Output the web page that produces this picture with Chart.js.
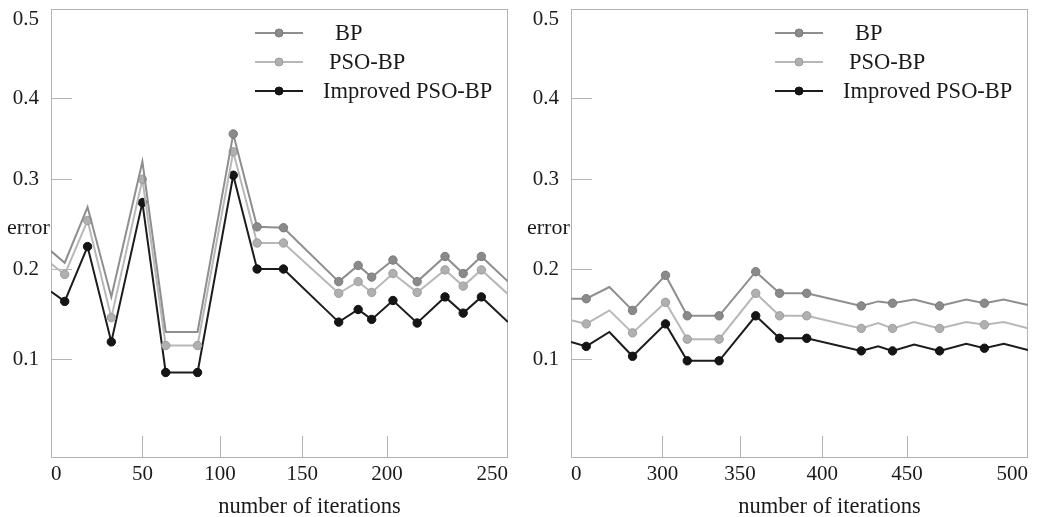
<!DOCTYPE html>
<html>
<head>
<meta charset="utf-8">
<script src="https://cdn.jsdelivr.net/npm/chart.js@4.4.1/dist/chart.umd.min.js"></script>
<style>
  html, body { margin: 0; padding: 0; background: #fff; }
  #wrap { position: relative; width: 1040px; height: 517px; }
  .panel { position: absolute; top: 0; width: 520px; height: 517px; }
</style>
</head>
<body>
<div id="wrap">
  <div class="panel" style="left:0"><canvas id="leftChart" width="520" height="517"></canvas></div>
  <div class="panel" style="left:520px"><canvas id="rightChart" width="520" height="517"></canvas></div>
</div>
<script>
// ---- data ----
const seriesNames = ['BP', 'PSO-BP', 'Improved PSO-BP'];

const leftIter = [0, 7.5, 20, 33, 50, 65, 85.5, 108, 122.5, 138.5, 171.5, 183, 191, 202.5, 212.5, 224, 231.5, 239, 250];
const leftBP   = [0.220, 0.207, 0.269, 0.169, 0.322, 0.130, 0.130, 0.356, 0.247, 0.246, 0.186, 0.204, 0.191, 0.210, 0.186, 0.214, 0.195, 0.214, 0.186];
const leftPSO  = [0.206, 0.194, 0.254, 0.146, 0.300, 0.115, 0.115, 0.334, 0.229, 0.229, 0.173, 0.186, 0.174, 0.195, 0.174, 0.199, 0.181, 0.199, 0.172];
const leftImp  = [0.175, 0.164, 0.225, 0.119, 0.274, 0.085, 0.085, 0.305, 0.200, 0.200, 0.141, 0.155, 0.144, 0.165, 0.140, 0.169, 0.151, 0.169, 0.141];

const rightIter = [0, 50, 126, 202, 302, 316, 336.5, 359.5, 374, 390.5, 423, 433, 441.5, 453, 463.5, 474.5, 482, 490, 500];
const rightBP   = [0.167, 0.167, 0.180, 0.154, 0.193, 0.148, 0.148, 0.197, 0.173, 0.173, 0.159, 0.164, 0.162, 0.166, 0.159, 0.166, 0.162, 0.166, 0.160];
const rightPSO  = [0.143, 0.139, 0.154, 0.129, 0.163, 0.122, 0.122, 0.173, 0.148, 0.148, 0.134, 0.140, 0.134, 0.141, 0.134, 0.141, 0.138, 0.141, 0.134];
const rightImp  = [0.119, 0.114, 0.130, 0.103, 0.139, 0.098, 0.098, 0.148, 0.123, 0.123, 0.109, 0.114, 0.109, 0.116, 0.109, 0.117, 0.112, 0.117, 0.110];

const leftTicks  = [0, 50, 100, 150, 200, 250];
const rightTicks = [0, 300, 350, 400, 450, 500];
const errorTicks = [0.1, 0.2, 0.3, 0.4, 0.5];

// ---- layout / style ----
// the printed axes are not evenly spaced; where each tick sits along its axis (0..1)
const xTickPos = [0, 0.2, 0.37, 0.55, 0.735, 1];
const yRange = [-0.01, 0.512];
const yTickPos = [0.2205, 0.4209, 0.6207, 0.8011, 0.9777];

const lineColors   = ['#8e8e8e', '#b8b8b8', '#1c1c1c'];
const markerFill   = ['#8a8a8a', '#b0b0b0', '#151515'];
const markerBorder = ['#7a7a7a', '#9c9c9c', '#111111'];
const leftMarked  = [range(7, 17), range(1, 17), range(1, 17)];
const rightMarkIdx = [1, 3, 4, 5, 6, 7, 8, 9, 10, 12, 14, 16];
const rightMarked = [rightMarkIdx, rightMarkIdx, rightMarkIdx];

const FONT = '"Liberation Serif", "Times New Roman", serif';
const INK = '#1a1a1a';
const FRAME = '#b4b4b4';

function range(a, b) { const r = []; for (let i = a; i <= b; i++) r.push(i); return r; }

// linear scale with piecewise placement between anchor values
class PiecewiseScale extends Chart.LinearScale {
  _toFrac(value) {
    const v = this.options.anchorValues, f = this.options.anchorFracs;
    let i = 1;
    while (i < v.length - 1 && value > v[i]) i++;
    const t = (value - v[i - 1]) / (v[i] - v[i - 1]);
    return f[i - 1] + t * (f[i] - f[i - 1]);
  }
  getPixelForValue(value) {
    if (value === null || value === undefined || isNaN(value)) return NaN;
    return this.getPixelForDecimal(this._toFrac(value));
  }
  getValueForPixel(pixel) {
    const d = this.getDecimalForPixel(pixel);
    const v = this.options.anchorValues, f = this.options.anchorFracs;
    let i = 1;
    while (i < f.length - 1 && d > f[i]) i++;
    const t = (d - f[i - 1]) / (f[i] - f[i - 1]);
    return v[i - 1] + t * (v[i] - v[i - 1]);
  }
}
PiecewiseScale.id = 'piecewise';
PiecewiseScale.defaults = {};
Chart.register(PiecewiseScale);

Chart.defaults.font.family = FONT;
Chart.defaults.font.size = 21;
Chart.defaults.color = INK;

// frame + short inner tick marks
const framePlugin = {
  id: 'frame',
  beforeDatasetsDraw(chart) {
    const { ctx, chartArea: a, scales } = chart;
    ctx.save();
    ctx.strokeStyle = FRAME;
    ctx.lineWidth = 1;
    ctx.strokeRect(a.left + 0.5, a.top + 0.5, a.right - a.left - 1, a.bottom - a.top - 1);
    ctx.beginPath();
    scales.y.ticks.forEach(t => {
      if (t.value > 0.45) return;
      const y = Math.round(scales.y.getPixelForValue(t.value)) + 0.5;
      ctx.moveTo(a.left, y); ctx.lineTo(a.left + 21, y);
    });
    scales.x.ticks.forEach((t, i, arr) => {
      if (i === 0 || i === arr.length - 1) return;
      const x = Math.round(scales.x.getPixelForValue(t.value)) + 0.5;
      ctx.moveTo(x, a.bottom); ctx.lineTo(x, a.bottom - 22);
    });
    ctx.stroke();
    ctx.restore();
  }
};

// legend inside the plot, axis titles
const labelPlugin = {
  id: 'labels',
  afterDraw(chart) {
    const { ctx, chartArea: a } = chart;
    const textOffsets = [284, 278, 272];
    ctx.save();
    chart.data.datasets.forEach((ds, i) => {
      const y = a.top + 24 + i * 29;
      const x0 = a.left + 204;
      ctx.strokeStyle = ds.borderColor;
      ctx.lineWidth = 2;
      ctx.beginPath(); ctx.moveTo(x0, y); ctx.lineTo(x0 + 48, y); ctx.stroke();
      ctx.beginPath(); ctx.arc(x0 + 24, y, 4, 0, Math.PI * 2);
      ctx.fillStyle = ds.pointBackgroundColor; ctx.fill();
      ctx.lineWidth = 1; ctx.strokeStyle = ds.pointBorderColor; ctx.stroke();
      ctx.fillStyle = INK;
      ctx.font = '22.5px ' + FONT;
      ctx.textAlign = 'left';
      ctx.textBaseline = 'middle';
      ctx.fillText(ds.label, a.left + textOffsets[i], y + 1);
    });
    ctx.fillStyle = INK;
    ctx.font = '22px ' + FONT;
    ctx.textAlign = 'left';
    ctx.textBaseline = 'middle';
    ctx.fillText('error', 7, 228);
    ctx.font = '22.5px ' + FONT;
    ctx.textAlign = 'center';
    ctx.textBaseline = 'alphabetic';
    ctx.fillText('number of iterations', (a.left + a.right) / 2 + 30, 513);
    ctx.restore();
  }
};

function makePanel(id, iter, series, xTicks, marked) {
  const datasets = series.map((vals, k) => ({
    label: seriesNames[k],
    data: iter.map((x, i) => ({ x: x, y: vals[i] })),
    borderColor: lineColors[k],
    borderWidth: 2,
    pointBackgroundColor: markerFill[k],
    pointBorderColor: markerBorder[k],
    pointBorderWidth: 1,
    pointRadius: ctx => marked[k].includes(ctx.dataIndex) ? 4.2 : 0,
    pointHoverRadius: 0,
    tension: 0
  }));

  new Chart(document.getElementById(id).getContext('2d'), {
    type: 'line',
    data: { datasets: datasets },
    options: {
      responsive: false,
      animation: false,
      events: [],
      layout: { padding: { top: 9, right: 12, bottom: 0, left: 0 } },
      plugins: { legend: { display: false }, tooltip: { enabled: false } },
      scales: {
        x: {
          type: 'piecewise',
          min: xTicks[0],
          max: xTicks[xTicks.length - 1],
          anchorValues: xTicks,
          anchorFracs: xTickPos,
          afterBuildTicks: s => { s.ticks = xTicks.map(v => ({ value: v })); },
          afterFit: s => { s.height = 59; s.paddingLeft = 0; s.paddingRight = 0; },
          grid: { display: false, drawTicks: false },
          border: { display: false },
          ticks: { align: 'inner', autoSkip: false, maxRotation: 0, padding: 4, callback: v => String(v) }
        },
        y: {
          type: 'piecewise',
          min: yRange[0],
          max: yRange[1],
          anchorValues: [yRange[0]].concat(errorTicks, [yRange[1]]),
          anchorFracs: [0].concat(yTickPos, [1]),
          afterBuildTicks: s => { s.ticks = errorTicks.map(v => ({ value: v })); },
          afterFit: s => { s.width = 51; s.paddingTop = 0; s.paddingBottom = 0; },
          grid: { display: false, drawTicks: false },
          border: { display: false },
          ticks: { padding: 12, autoSkip: false, callback: v => v.toFixed(1) }
        }
      }
    },
    plugins: [framePlugin, labelPlugin]
  });
}

makePanel('leftChart', leftIter, [leftBP, leftPSO, leftImp], leftTicks, leftMarked);
makePanel('rightChart', rightIter, [rightBP, rightPSO, rightImp], rightTicks, rightMarked);
</script>
</body>
</html>
